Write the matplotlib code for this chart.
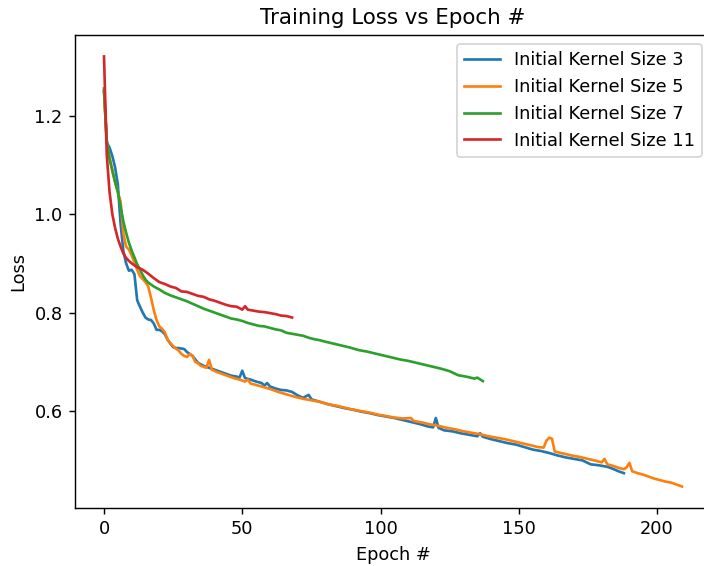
import matplotlib
matplotlib.use("Agg")
import matplotlib.pyplot as plt

# epochs / losses
ep3 = [0, 1, 2, 3, 4, 5, 6, 7, 8, 9, 10, 11, 12, 13, 14, 15, 16, 17, 18, 19,
       20, 21, 22, 23, 24, 25, 26, 27, 28, 29, 30, 31, 32, 33, 34, 35, 36, 38,
       40, 42, 44, 46, 48, 49, 50, 51, 53, 55, 57, 58, 59, 60, 62, 64, 66, 68,
       70, 72, 74, 75, 78, 81, 84, 87, 90, 93, 96, 99, 102, 105, 108, 111, 114,
       117, 119, 120, 121, 123, 126, 129, 132, 135, 136, 137, 140, 143, 146,
       149, 152, 155, 158, 161, 164, 167, 170, 173, 176, 179, 182, 184, 186, 188]
loss3 = [1.250, 1.145, 1.135, 1.118, 1.095, 1.060, 0.980, 0.925, 0.900, 0.885,
         0.887, 0.878, 0.825, 0.812, 0.800, 0.790, 0.786, 0.785, 0.778, 0.765,
         0.765, 0.762, 0.756, 0.745, 0.737, 0.730, 0.728, 0.728, 0.727, 0.726,
         0.720, 0.716, 0.712, 0.705, 0.698, 0.695, 0.692, 0.688, 0.684, 0.680,
         0.676, 0.672, 0.670, 0.668, 0.682, 0.667, 0.664, 0.660, 0.657, 0.652,
         0.657, 0.650, 0.646, 0.643, 0.642, 0.639, 0.632, 0.627, 0.633, 0.624,
         0.619, 0.614, 0.610, 0.606, 0.603, 0.599, 0.596, 0.592, 0.589, 0.586,
         0.582, 0.578, 0.574, 0.569, 0.567, 0.586, 0.566, 0.561, 0.559, 0.555,
         0.552, 0.549, 0.555, 0.548, 0.543, 0.539, 0.535, 0.532, 0.527, 0.522,
         0.519, 0.515, 0.510, 0.506, 0.503, 0.500, 0.492, 0.490, 0.487, 0.483,
         0.478, 0.474]

ep5 = [0, 1, 2, 3, 4, 5, 6, 7, 8, 9, 10, 11, 12, 13, 14, 15, 16, 17, 18, 19,
       20, 21, 22, 23, 24, 25, 26, 27, 28, 29, 30, 31, 32, 33, 34, 35, 36, 37,
       38, 39, 41, 43, 45, 47, 49, 51, 52, 53, 55, 57, 60, 63, 66, 69, 72, 75,
       78, 81, 84, 87, 90, 93, 96, 99, 102, 105, 108, 111, 112, 115, 118, 121,
       124, 127, 130, 133, 136, 139, 142, 145, 148, 151, 154, 157, 159, 160,
       161, 162, 163, 166, 169, 172, 175, 178, 180, 181, 182, 184, 186, 188,
       189, 190, 191, 193, 195, 197, 199, 201, 203, 205, 207, 209]
loss5 = [1.250, 1.145, 1.115, 1.090, 1.065, 1.045, 1.025, 0.960, 0.934, 0.928,
         0.916, 0.902, 0.887, 0.874, 0.868, 0.862, 0.853, 0.830, 0.805, 0.785,
         0.772, 0.767, 0.760, 0.745, 0.738, 0.732, 0.727, 0.723, 0.716, 0.712,
         0.710, 0.716, 0.712, 0.700, 0.697, 0.692, 0.690, 0.688, 0.704, 0.684,
         0.679, 0.675, 0.671, 0.667, 0.664, 0.660, 0.664, 0.656, 0.653, 0.650,
         0.645, 0.639, 0.634, 0.629, 0.625, 0.622, 0.619, 0.614, 0.611, 0.607,
         0.603, 0.600, 0.597, 0.593, 0.590, 0.587, 0.585, 0.586, 0.580, 0.577,
         0.573, 0.570, 0.566, 0.563, 0.559, 0.556, 0.553, 0.549, 0.546, 0.543,
         0.539, 0.535, 0.531, 0.527, 0.526, 0.540, 0.546, 0.544, 0.518, 0.514,
         0.510, 0.507, 0.503, 0.499, 0.496, 0.503, 0.492, 0.489, 0.485, 0.482,
         0.486, 0.495, 0.478, 0.474, 0.471, 0.467, 0.463, 0.460, 0.457, 0.455,
         0.451, 0.447]

ep7 = [0, 1, 2, 3, 4, 5, 6, 7, 8, 9, 10, 11, 12, 13, 14, 15, 16, 18, 20, 22,
       24, 26, 28, 30, 32, 34, 36, 38, 40, 42, 44, 46, 48, 50, 52, 54, 56, 58,
       60, 62, 64, 66, 68, 70, 72, 74, 76, 78, 80, 83, 86, 89, 92, 95, 98, 101,
       104, 107, 110, 113, 116, 119, 122, 125, 128, 131, 134, 135, 137]
loss7 = [1.255, 1.150, 1.112, 1.088, 1.065, 1.045, 1.015, 0.985, 0.962, 0.942,
         0.926, 0.912, 0.898, 0.888, 0.876, 0.867, 0.861, 0.853, 0.847, 0.840,
         0.835, 0.831, 0.827, 0.823, 0.818, 0.813, 0.808, 0.804, 0.800, 0.796,
         0.792, 0.788, 0.786, 0.783, 0.779, 0.776, 0.773, 0.772, 0.769, 0.766,
         0.764, 0.759, 0.757, 0.755, 0.753, 0.749, 0.746, 0.744, 0.741, 0.737,
         0.733, 0.729, 0.724, 0.721, 0.717, 0.713, 0.709, 0.705, 0.702, 0.698,
         0.694, 0.690, 0.686, 0.681, 0.673, 0.670, 0.666, 0.668, 0.661]

ep11 = [0, 1, 2, 3, 4, 5, 6, 7, 8, 9, 10, 12, 14, 16, 18, 20, 22, 24, 26, 28,
        30, 32, 34, 36, 38, 40, 42, 44, 46, 48, 50, 51, 52, 54, 56, 58, 60, 62,
        64, 66, 68]
loss11 = [1.320, 1.120, 1.045, 1.000, 0.972, 0.950, 0.934, 0.920, 0.911, 0.905,
          0.900, 0.892, 0.887, 0.879, 0.870, 0.862, 0.858, 0.853, 0.850, 0.843,
          0.842, 0.838, 0.834, 0.832, 0.827, 0.824, 0.820, 0.816, 0.813, 0.812,
          0.806, 0.813, 0.806, 0.804, 0.802, 0.801, 0.799, 0.797, 0.794, 0.793,
          0.790]

fig = plt.figure(figsize=(5.5, 4.422), dpi=128)
ax = fig.add_axes([0.1067, 0.1025, 0.903, 0.8357])

ax.plot(ep3, loss3, label='Initial Kernel Size 3')
ax.plot(ep5, loss5, label='Initial Kernel Size 5')
ax.plot(ep7, loss7, label='Initial Kernel Size 7')
ax.plot(ep11, loss11, label='Initial Kernel Size 11')

ax.set_title('Training Loss vs Epoch #')
ax.set_xlabel('Epoch #')
ax.set_ylabel('Loss')
ax.set_yticks([0.6, 0.8, 1.0, 1.2])
ax.spines['right'].set_visible(False)  # off the cropped edge anyway
ax.legend(loc='upper right')

fig.savefig('out.png', dpi=128)
